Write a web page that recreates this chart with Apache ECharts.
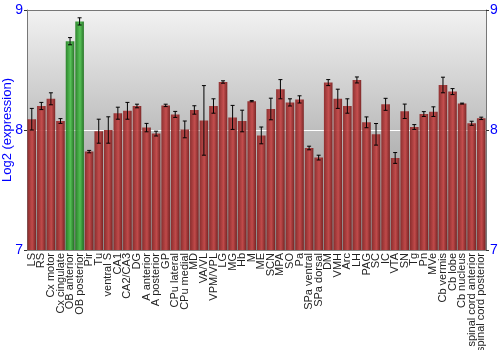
<!DOCTYPE html>
<html>
<head>
<meta charset="utf-8">
<script src="https://cdn.jsdelivr.net/npm/echarts@6/dist/echarts.min.js"></script>
<style>html,body{margin:0;padding:0;background:#fff;}#c{width:500px;height:350px;}</style>
</head>
<body>
<div id="c"></div>
<script>
const categories = ["LS","RS","Cx motor","Cx cingulate","OB anterior","OB posterior","Pir","Tu","ventral S","CA1","CA2/CA3","DG","A anterior","A posterior","GP","CPu lateral","CPu medial","MD","VA/VL","VPM/VPL","LG","MG","Hb","M","ME","SCN","MPA","SO","Pa","SPa ventral","SPa dorsal","DM","VMH","Arc","LH","PAG","SC","IC","VTA","SN","Tg","Pn","MVe","Cb vermis","Cb lobe","Cb nucleus","spinal cord anterior","spinal cord posterior"];
const values = [8.09,8.20,8.26,8.075,8.74,8.905,7.82,7.99,8.00,8.14,8.16,8.20,8.02,7.97,8.205,8.13,8.005,8.167,8.08,8.20,8.40,8.105,8.075,8.24,7.955,8.175,8.34,8.23,8.255,7.85,7.77,8.395,8.26,8.20,8.417,8.064,7.964,8.214,7.767,8.156,8.025,8.133,8.153,8.375,8.32,8.22,8.056,8.097];
const errors = [0.09,0.03,0.05,0.02,0.03,0.03,0.01,0.10,0.11,0.05,0.07,0.015,0.035,0.02,0.01,0.025,0.07,0.035,0.29,0.06,0.01,0.10,0.09,0.005,0.07,0.09,0.08,0.03,0.03,0.015,0.02,0.025,0.08,0.06,0.025,0.045,0.09,0.05,0.045,0.06,0.02,0.02,0.04,0.065,0.025,0.004,0.017,0.01];
const highlighted = ["OB anterior","OB posterior"];
const yTicks = [7,8,9];

const redGrad = new echarts.graphic.LinearGradient(0,0,1,0,[
  {offset:0,color:'#8a2424'},{offset:0.55,color:'#c44444'},{offset:1,color:'#761a1a'}]);
const greenGrad = new echarts.graphic.LinearGradient(0,0,1,0,[
  {offset:0,color:'#1e7e1e'},{offset:0.55,color:'#4cbf4c'},{offset:1,color:'#186c18'}]);

const barData = values.map((v,i)=>({value:v,itemStyle:{color: highlighted.includes(categories[i]) ? greenGrad : redGrad}}));
const errData = values.map((v,i)=>[i, v-errors[i], v+errors[i]]);

const chart = echarts.init(document.getElementById('c'));
const yCommon = {
  type:'value', min:yTicks[0], max:yTicks[yTicks.length-1], interval:1,
  axisLabel:{color:'#0000ff', fontSize:14, fontFamily:'Liberation Sans', margin:4},
  axisTick:{show:true, length:3, lineStyle:{color:'#333'}},
  axisLine:{show:true, lineStyle:{color:'#777'}},
};
chart.setOption({
  animation:false,
  grid:{left:27, right:14, top:10, bottom:100, outerBoundsMode:'none', containLabel:false, show:true, borderWidth:0,
    backgroundColor: new echarts.graphic.LinearGradient(0,0,0,1,[{offset:0,color:'#f2f2f2'},{offset:1,color:'#8a8a8a'}])},
  xAxis:{type:'category', data:categories,
    axisLabel:{rotate:90, interval:0, fontSize:11, color:'#222', fontFamily:'Liberation Sans', margin:3},
    axisTick:{show:false}, axisLine:{show:true, lineStyle:{color:'#888'}}},
  yAxis:[
    Object.assign({}, yCommon, {position:'left', name:'Log2 (expression)', nameLocation:'middle', nameGap:13, nameMoveOverlap:false,
      nameTextStyle:{color:'#0000ff', fontSize:13, fontFamily:'Liberation Sans'},
      splitLine:{show:true, lineStyle:{color:'#ffffff', width:1}}}),
    Object.assign({}, yCommon, {position:'right', splitLine:{show:false}})
  ],
  series:[
    {type:'bar', data:barData, barCategoryGap:'10%', itemStyle:{opacity:0.92}, z:2},
    {type:'custom', data:errData, z:3,
      renderItem:function(params, api){
        const x = api.value(0);
        const lo = api.coord([x, api.value(1)]);
        const hi = api.coord([x, api.value(2)]);
        const w = 2;
        const st = {stroke:'#000', lineWidth:1};
        return {type:'group', children:[
          {type:'line', shape:{x1:lo[0],y1:lo[1],x2:hi[0],y2:hi[1]}, style:st},
          {type:'line', shape:{x1:lo[0]-w,y1:lo[1],x2:lo[0]+w,y2:lo[1]}, style:st},
          {type:'line', shape:{x1:hi[0]-w,y1:hi[1],x2:hi[0]+w,y2:hi[1]}, style:st}
        ]};
      }}
  ],
  graphic:[{type:'line', shape:{x1:27,y1:10.5,x2:486,y2:10.5}, style:{stroke:'#777',lineWidth:1}, z:10}]
});
</script>
</body>
</html>
